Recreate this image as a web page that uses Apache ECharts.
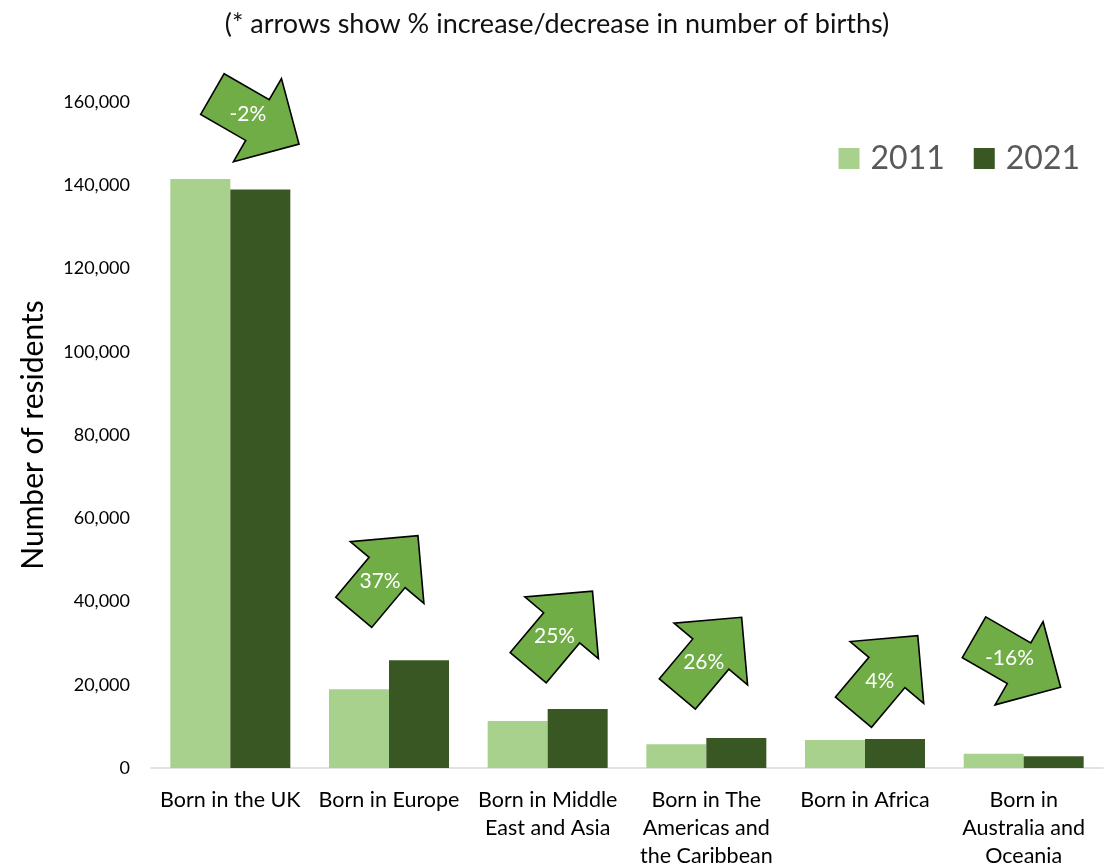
<!DOCTYPE html>
<html>
<head>
<meta charset="utf-8">
<title>Residents by country of birth, 2011 and 2021</title>
<script src="https://cdn.jsdelivr.net/npm/echarts@6/dist/echarts.min.js"></script>
<style>
  html, body { margin: 0; padding: 0; background: #ffffff; }
  #chart { width: 1114px; height: 867px; }
</style>
</head>
<body>
<div id="chart"></div>
<script>
// Regions of birth
const categories = [
  'Born in the UK',
  'Born in Europe',
  'Born in Middle\nEast and Asia',
  'Born in The\nAmericas and\nthe Caribbean',
  'Born in Africa',
  'Born in\nAustralia and\nOceania'
];

// Number of residents per census year
const residents2011 = [141500, 18900, 11300, 5700, 6700, 3400];
const residents2021 = [139000, 25900, 14150, 7200, 6950, 2850];

// Value-axis ticks
const yTicks = [0, 20000, 40000, 60000, 80000, 100000, 120000, 140000, 160000];

// Change arrows: horizontal shift from the category centre and height (in residents)
const arrowShift = [0.16, -0.02, 0.08, 0.02, 0.13, -0.04];
const arrowLevel = [155900, 46600, 33300, 27000, 22600, 25400];

const FONT = 'Lato, "Open Sans", sans-serif';

// Block arrow pointing along +x, centred on the origin
const ARROW_PATH = 'path://M-50,-24 L2,-24 L2,-49 L50,0 L2,49 L2,24 L-50,24 Z';

const arrowData = categories.map((c, i) => {
  const a = residents2011[i];
  const b = residents2021[i];
  const pct = Math.round((b - a) / a * 100);
  const angle = pct >= 0 ? 50 : -30;
  const rad = angle * Math.PI / 180;
  // text sits a little toward the arrow's tail
  const off = [-9 * Math.cos(rad), 9 * Math.sin(rad)];
  return {
    value: [i + arrowShift[i], arrowLevel[i]],
    symbolRotate: angle,
    label: { formatter: pct + '%', offset: off }
  };
});

const chart = echarts.init(document.getElementById('chart'), null, { renderer: 'canvas' });

chart.setOption({
  animation: false,
  backgroundColor: '#ffffff',
  title: {
    text: '(* arrows show % increase/decrease in number of births)',
    left: 'center',
    top: 6,
    textStyle: { fontFamily: FONT, fontSize: 27, fontWeight: 'normal', color: '#111111' }
  },
  legend: {
    right: 34,
    top: 142,
    padding: 0,
    itemWidth: 21,
    itemHeight: 21,
    itemGap: 29,
    icon: 'rect',
    textStyle: { fontFamily: FONT, fontSize: 32, lineHeight: 33, color: '#595959', padding: [0, 0, 0, 6] },
    data: ['2011', '2021']
  },
  grid: { left: 151, right: 11, top: 102, bottom: 99, containLabel: false, outerBoundsMode: 'none' },
  xAxis: [
    {
      type: 'category',
      data: categories,
      axisLine: { lineStyle: { color: '#D9D9D9', width: 1.5 } },
      axisTick: { show: false },
      axisLabel: {
        interval: 0,
        margin: 18,
        fontFamily: FONT,
        fontSize: 21.5,
        lineHeight: 28,
        color: '#000000'
      }
    },
    {
      type: 'value',
      min: -0.5,
      max: 5.5,
      show: false
    }
  ],
  yAxis: {
    type: 'value',
    min: yTicks[0],
    max: yTicks[yTicks.length - 1],
    interval: yTicks[1] - yTicks[0],
    name: 'Number of residents',
    nameLocation: 'middle',
    nameRotate: 90,
    nameGap: 103,
    nameTextStyle: { fontFamily: FONT, fontSize: 30, color: '#000000' },
    splitLine: { show: false },
    axisLine: { show: false },
    axisTick: { show: false },
    axisLabel: {
      margin: 21,
      fontFamily: FONT,
      fontSize: 18,
      color: '#000000',
      formatter: v => v.toLocaleString('en-GB')
    }
  },
  series: [
    {
      name: '2011',
      type: 'bar',
      data: residents2011,
      barWidth: 60,
      barGap: '0%',
      itemStyle: { color: '#A9D18E' }
    },
    {
      name: '2021',
      type: 'bar',
      data: residents2021,
      barWidth: 60,
      barGap: '0%',
      itemStyle: { color: '#385723' }
    },
    {
      name: 'change',
      type: 'scatter',
      xAxisIndex: 1,
      data: arrowData,
      symbol: ARROW_PATH,
      symbolKeepAspect: true,
      symbolSize: [100, 98],
      itemStyle: { color: '#70AD47', borderColor: '#000000', borderWidth: 1.6, opacity: 1 },
      label: {
        show: true,
        position: 'inside',
        fontFamily: FONT,
        fontSize: 21,
        color: '#ffffff'
      },
      emphasis: { disabled: true },
      z: 5
    }
  ]
});
</script>
</body>
</html>
